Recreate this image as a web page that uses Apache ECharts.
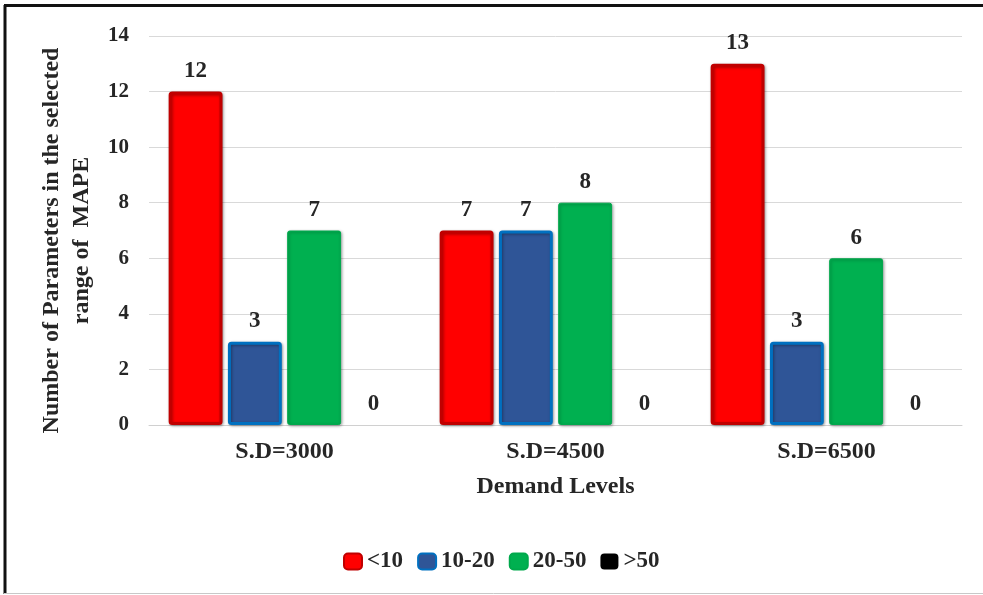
<!DOCTYPE html>
<html>
<head>
<meta charset="utf-8">
<script src="https://cdn.jsdelivr.net/npm/echarts@6/dist/echarts.min.js"></script>
<style>
  html, body { margin: 0; padding: 0; background: #fff; }
  #chart { width: 983px; height: 595px; }
</style>
</head>
<body>
<div id="chart"></div>
<script>
// Demand levels and MAPE bands
const categories = ['S.D=3000', 'S.D=4500', 'S.D=6500'];
const seriesNames = ['<10', '10-20', '20-50', '>50'];
const below10 = [12, 7, 13];
const from10to20 = [3, 7, 3];
const from20to50 = [7, 8, 6];
const above50 = [0, 0, 0];
const yTicks = [0, 2, 4, 6, 8, 10, 12, 14];

const FONT = '"Liberation Serif", "Times New Roman", serif';
const TEXT = '#262626';

const styles = [
  { color: '#ff0000', borderColor: '#c00000', borderWidth: 3 },
  { color: '#2f5597', borderColor: '#0070c0', borderWidth: 3 },
  { color: '#00b050', borderColor: '#00a94c', borderWidth: 1 },
  { color: '#000000', borderColor: '#000000', borderWidth: 0 }
];
const values = [below10, from10to20, from20to50, above50];

const series = seriesNames.map((name, i) => ({
  name: name,
  type: 'bar',
  data: values[i],
  barCategoryGap: '14.5%',
  barGap: '10%',
  itemStyle: Object.assign({
    borderRadius: 2,
    shadowBlur: 3,
    shadowOffsetX: 1,
    shadowOffsetY: 1,
    shadowColor: 'rgba(0,0,0,0.35)'
  }, styles[i]),
  label: {
    show: true,
    position: 'top',
    distance: 9,
    fontFamily: FONT,
    fontWeight: 'bold',
    fontSize: 23,
    color: TEXT
  }
}));

const chart = echarts.init(document.getElementById('chart'));
chart.setOption({
  animation: false,
  backgroundColor: '#ffffff',
  grid: { left: 149, right: 21, top: 36, bottom: 170, containLabel: false },
  legend: {
    data: seriesNames,
    left: 338,
    top: 545,
    itemWidth: 18,
    itemHeight: 16,
    itemGap: 14,
    icon: 'roundRect',
    textStyle: { fontFamily: FONT, fontWeight: 'bold', fontSize: 23, color: TEXT }
  },
  xAxis: {
    type: 'category',
    data: categories,
    name: 'Demand Levels',
    nameLocation: 'middle',
    nameGap: 50,
    nameTextStyle: { fontFamily: FONT, fontWeight: 'bold', fontSize: 24, color: TEXT },
    axisLine: { lineStyle: { color: '#d0d0d0', width: 1 } },
    axisTick: { show: false },
    axisLabel: { margin: 15, fontFamily: FONT, fontWeight: 'bold', fontSize: 24, color: TEXT }
  },
  yAxis: {
    type: 'value',
    min: yTicks[0],
    max: yTicks[yTicks.length - 1],
    interval: 2,
    name: 'Number of Parameters in the selected\nrange of  MAPE',
    nameLocation: 'middle',
    nameGap: 47,
    nameTextStyle: {
      fontFamily: FONT, fontWeight: 'bold', fontSize: 24, color: TEXT,
      lineHeight: 30, align: 'center', padding: [0, 20, 0, 0]
    },
    axisLine: { show: false },
    axisTick: { show: false },
    splitLine: { lineStyle: { color: '#d9d9d9', width: 1 } },
    axisLabel: { margin: 20, fontFamily: FONT, fontWeight: 'bold', fontSize: 21, color: TEXT }
  },
  graphic: [
    { type: 'line', shape: { x1: 5, y1: 5, x2: 5, y2: 594 }, style: { stroke: '#111', lineWidth: 3 } },
    { type: 'line', shape: { x1: 4, y1: 5.5, x2: 983, y2: 5.5 }, style: { stroke: '#111', lineWidth: 3 } },
    { type: 'line', shape: { x1: 4, y1: 593.5, x2: 983, y2: 593.5 }, style: { stroke: '#c8c8c8', lineWidth: 1 } }
  ],
  series: series
});
</script>
</body>
</html>
